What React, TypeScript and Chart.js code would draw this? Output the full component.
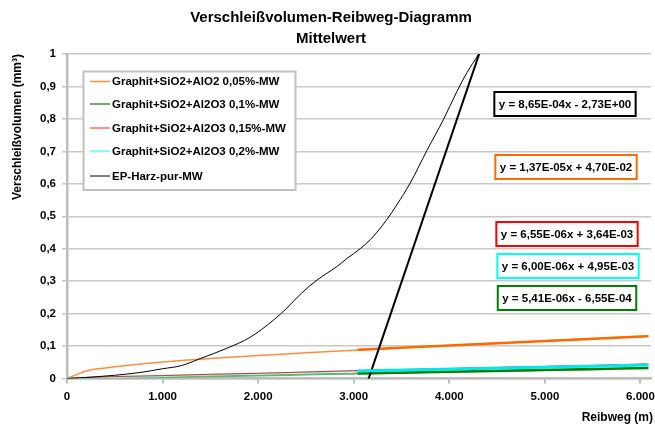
import { useEffect, useRef } from 'react';
import { Chart, registerables } from 'chart.js';

Chart.register(...registerables);

// ---------- text / ticks ----------
const titleLines = ['Verschleißvolumen-Reibweg-Diagramm', 'Mittelwert'];
const xAxisTitle = 'Reibweg (m)';
const yAxisTitle = 'Verschleißvolumen (mm³)';
const xTickValues = [0, 1000, 2000, 3000, 4000, 5000, 6000];
const xTickLabels = ['0', '1.000', '2.000', '3.000', '4.000', '5.000', '6.000'];
const yTickValues = [0, 0.1, 0.2, 0.3, 0.4, 0.5, 0.6, 0.7, 0.8, 0.9, 1];
const yTickLabels = ['0', '0,1', '0,2', '0,3', '0,4', '0,5', '0,6', '0,7', '0,8', '0,9', '1'];

// ---------- series ----------
const seriesNames = [
  'Graphit+SiO2+AlO2 0,05%-MW',
  'Graphit+SiO2+Al2O3 0,1%-MW',
  'Graphit+SiO2+Al2O3 0,15%-MW',
  'Graphit+SiO2+Al2O3 0,2%-MW',
  'EP-Harz-pur-MW',
];
const seriesColors = ['#ff8c3c', '#6cb46c', '#ff2020', '#80ffff', '#000000'];
const seriesWidths = [1.5, 2, 1, 2, 1];

const orangeX = [0, 100, 200, 300, 500, 750, 1000, 1500, 2000, 2500, 3000, 3500, 4000, 4500, 5000, 5500, 6083];
const orangeY = [0, 0.012, 0.023, 0.029, 0.036, 0.044, 0.051, 0.062, 0.071, 0.079, 0.087, 0.095, 0.102, 0.109, 0.116, 0.123, 0.131];

const greenX = [0, 500, 1000, 1500, 2000, 2500, 3000, 3500, 4000, 4500, 5000, 5645];
const greenY = [0, 0.002, 0.004, 0.007, 0.009, 0.012, 0.015, 0.018, 0.021, 0.023, 0.026, 0.029];

const redX = [0, 250, 500, 1000, 1500, 2000, 2500, 3000, 3500, 4000, 4500, 5000, 5500, 6060];
const redY = [0, 0.004, 0.006, 0.009, 0.013, 0.016, 0.020, 0.024, 0.027, 0.030, 0.034, 0.037, 0.040, 0.045];

const cyanX = [0, 250, 500, 1000, 1500, 2000, 2500, 3000, 3500, 4000, 4500, 5000, 5500, 6060];
const cyanY = [0, 0.003, 0.005, 0.008, 0.012, 0.015, 0.019, 0.023, 0.026, 0.029, 0.032, 0.035, 0.038, 0.041];

const blackX = [0, 250, 500, 750, 1000, 1200, 1400, 1672, 1916, 2160, 2300, 2450, 2614, 2824, 2929, 3068, 3173, 3243, 3347, 3450, 3592, 3766, 3940, 4080, 4185, 4307, 4400];
const blackY = [0, 0.004, 0.01, 0.018, 0.03, 0.04, 0.062, 0.093, 0.127, 0.18, 0.217, 0.262, 0.303, 0.345, 0.37, 0.40, 0.428, 0.451, 0.49, 0.535, 0.603, 0.703, 0.799, 0.885, 0.943, 1.0, 1.05];

const seriesX = [orangeX, greenX, redX, cyanX, blackX];
const seriesY = [orangeY, greenY, redY, cyanY, blackY];

// ---------- linear trendlines (same order as series) ----------
const trendSlopes = [1.37e-5, 5.41e-6, 6.55e-6, 6.0e-6, 8.65e-4];
const trendIntercepts = [4.7e-2, -6.55e-4, 3.64e-3, 4.95e-3, -2.73];
const trendRange = [3040, 6083];
const trendColors = ['#ff6a00', '#008000', '#ff0000', '#00e8f0', '#000000'];
const trendWidths = [2.5, 2.5, 1.5, 3, 2];
const equationLabels = [
  'y = 1,37E-05x + 4,70E-02',
  'y = 5,41E-06x - 6,55E-04',
  'y = 6,55E-06x + 3,64E-03',
  'y = 6,00E-06x + 4,95E-03',
  'y = 8,65E-04x - 2,73E+00',
];
const equationBorderColors = ['#ff6a00', '#008000', '#ff0000', '#00ffff', '#000000'];

// ---------- layout (pixels) ----------
const FONT = '"Liberation Sans", Arial, Helvetica, sans-serif';
const eqBoxCenterX = [566, 567, 567, 568, 565];
const eqBoxCenterY = [167, 298, 234, 266, 104];
const legendBox = { x: 83.5, y: 71.5, w: 212, h: 118.5 };
const legendRowY = [81.5, 104, 128, 151, 176];

const overlayPlugin = {
  id: 'overlay',
  afterDraw(chart: any) {
    const ctx: CanvasRenderingContext2D = chart.ctx;
    ctx.save();
    ctx.fillStyle = '#000';
    ctx.textBaseline = 'middle';

    // title
    ctx.textAlign = 'center';
    ctx.font = `bold 15px ${FONT}`;
    ctx.fillText(titleLines[0], 331, 18);
    ctx.fillText(titleLines[1], 331, 39);

    // axis titles
    ctx.font = `bold 12px ${FONT}`;
    ctx.save();
    ctx.translate(18, 127);
    ctx.rotate(-Math.PI / 2);
    ctx.fillText(yAxisTitle, 0, 0);
    ctx.restore();
    ctx.textAlign = 'right';
    ctx.fillText(xAxisTitle, 653, 418);

    // legend
    ctx.fillStyle = '#fff';
    ctx.fillRect(legendBox.x, legendBox.y, legendBox.w, legendBox.h);
    ctx.strokeStyle = '#c0c0c0';
    ctx.lineWidth = 2;
    ctx.strokeRect(legendBox.x, legendBox.y, legendBox.w, legendBox.h);
    ctx.font = `bold 11.5px ${FONT}`;
    ctx.textAlign = 'left';
    seriesNames.forEach((name, i) => {
      const y = legendRowY[i];
      ctx.strokeStyle = seriesColors[i];
      ctx.lineWidth = seriesWidths[i];
      ctx.beginPath();
      ctx.moveTo(90, y);
      ctx.lineTo(110, y);
      ctx.stroke();
      ctx.fillStyle = '#000';
      ctx.fillText(name, 112, y + 0.5);
    });

    // equation boxes
    equationLabels.forEach((txt, i) => {
      const w = ctx.measureText(txt).width + 9;
      const h = 24;
      const x = eqBoxCenterX[i] - w / 2;
      const y = eqBoxCenterY[i] - h / 2;
      ctx.fillStyle = '#fff';
      ctx.fillRect(x, y, w, h);
      ctx.strokeStyle = equationBorderColors[i];
      ctx.lineWidth = 2;
      ctx.strokeRect(x, y, w, h);
      ctx.fillStyle = '#000';
      ctx.textAlign = 'center';
      ctx.fillText(txt, eqBoxCenterX[i], eqBoxCenterY[i] + 0.5);
    });
    ctx.restore();
  },
};

export default function App() {
  const ref = useRef<HTMLCanvasElement | null>(null);

  useEffect(() => {
    document.body.style.margin = '0';
    const canvas = ref.current;
    if (!canvas) return;

    const dataOrder = [7, 6, 4, 5, 3];
    const trendOrder = [2, 1, 1, 0, 0];
    const datasets: any[] = [];
    seriesNames.forEach((name, i) => {
      datasets.push({
        label: name,
        data: seriesX[i].map((x, j) => ({ x, y: seriesY[i][j] })),
        borderColor: seriesColors[i],
        backgroundColor: seriesColors[i],
        borderWidth: seriesWidths[i],
        showLine: true,
        pointRadius: 0,
        cubicInterpolationMode: 'monotone',
        order: dataOrder[i],
      });
    });
    trendSlopes.forEach((m, i) => {
      datasets.push({
        label: 'trend ' + i,
        data: trendRange.map((x) => ({ x, y: m * x + trendIntercepts[i] })),
        borderColor: trendColors[i],
        backgroundColor: trendColors[i],
        borderWidth: trendWidths[i],
        showLine: true,
        pointRadius: 0,
        order: trendOrder[i],
      });
    });

    const chart = new Chart(canvas, {
      type: 'scatter',
      data: { datasets },
      plugins: [overlayPlugin],
      options: {
        animation: false,
        responsive: false,
        maintainAspectRatio: false,
        layout: { padding: { top: 54, right: 4, left: 0, bottom: 0 } },
        plugins: { legend: { display: false }, title: { display: false }, tooltip: { enabled: false } },
        scales: {
          x: {
            type: 'linear',
            min: 0,
            max: 6110,
            afterBuildTicks: (s: any) => {
              s.ticks = xTickValues.map((value) => ({ value }));
            },
            afterFit: (s: any) => {
              s.height = 46.5;
              s.paddingLeft = 0;
              s.paddingRight = 0;
            },
            ticks: {
              padding: 6,
              color: '#000',
              maxRotation: 0,
              autoSkip: false,
              font: { family: FONT, size: 11.5, weight: 'bold' },
              callback: (_v: any, idx: number) => xTickLabels[idx] ?? '',
            },
            grid: { drawOnChartArea: false, drawTicks: true, tickLength: 5, color: '#bdbdbd', lineWidth: 2 },
            border: { display: true, color: '#bdbdbd', width: 2.5 },
          },
          y: {
            type: 'linear',
            min: 0,
            max: 1,
            afterBuildTicks: (s: any) => {
              s.ticks = yTickValues.map((value) => ({ value }));
            },
            afterFit: (s: any) => {
              s.width = 67;
              s.paddingTop = 0;
              s.paddingBottom = 0;
            },
            ticks: {
              padding: 6,
              color: '#000',
              autoSkip: false,
              font: { family: FONT, size: 11.5, weight: 'bold' },
              callback: (_v: any, idx: number) => yTickLabels[idx] ?? '',
            },
            grid: { drawOnChartArea: true, drawTicks: true, tickLength: 5, color: '#c8c8c8', lineWidth: 1.5 },
            border: { display: true, color: '#bdbdbd', width: 2.5 },
          },
        },
      },
    });
    return () => chart.destroy();
  }, []);

  return (
    <div style={{ width: 655, height: 425 }}>
      <canvas ref={ref} width={655} height={425} style={{ display: 'block' }} />
    </div>
  );
}
